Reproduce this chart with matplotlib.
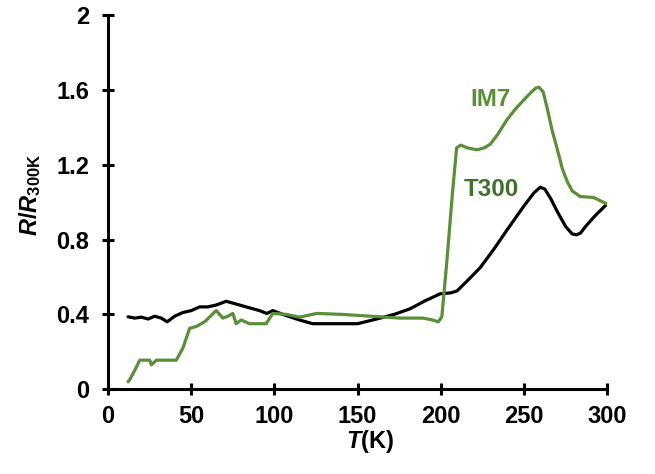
import matplotlib
matplotlib.use("Agg")
import matplotlib.pyplot as plt

plt.rcParams['font.family'] = ['Liberation Sans', 'DejaVu Sans']
plt.rcParams['mathtext.fontset'] = 'custom'
plt.rcParams['mathtext.rm'] = 'Liberation Sans'
plt.rcParams['mathtext.it'] = 'Liberation Sans:italic'
plt.rcParams['mathtext.bf'] = 'Liberation Sans:bold'
plt.rcParams['mathtext.bfit'] = 'Liberation Sans:bold:italic'

# T300 (black)
t300_T = [12, 16, 20, 24, 28, 32, 35.5, 40, 45, 50, 55, 60, 65, 71, 75, 79, 83, 87, 91, 95.4, 99, 105, 110, 115, 123, 130, 140, 150, 163.6, 172, 181.6, 190, 199.6, 206, 209.7, 216, 223.7, 232, 239.7, 250, 256, 259.8, 262.5, 266, 270, 275, 279, 281.5, 284, 287, 293, 299.9]
t300_R = [0.387, 0.38, 0.385, 0.375, 0.39, 0.38, 0.36, 0.39, 0.41, 0.42, 0.44, 0.44, 0.45, 0.47, 0.46, 0.45, 0.44, 0.43, 0.42, 0.405, 0.42, 0.40, 0.385, 0.37, 0.35, 0.35, 0.35, 0.35, 0.38, 0.40, 0.43, 0.47, 0.51, 0.515, 0.525, 0.58, 0.65, 0.75, 0.85, 0.98, 1.05, 1.08, 1.07, 1.02, 0.95, 0.87, 0.83, 0.825, 0.835, 0.87, 0.93, 0.99]

# IM7 (green)
im7_T = [12, 13, 16, 19, 25, 26, 29, 35, 41, 45, 49, 53, 58, 65, 69, 72, 75, 77, 80, 85, 95, 99, 107, 115, 125.5, 140, 163.6, 175, 189.4, 195, 198.5, 200.6, 203.7, 207, 209.5, 212, 216, 221.7, 226, 229.7, 234, 239.7, 245, 249.7, 254, 257, 259, 261.5, 264, 267, 269.8, 273, 276, 279, 283.8, 291.8, 299.9]
im7_R = [0.04, 0.05, 0.1, 0.155, 0.155, 0.13, 0.155, 0.155, 0.155, 0.22, 0.325, 0.335, 0.36, 0.42, 0.38, 0.39, 0.405, 0.35, 0.37, 0.35, 0.35, 0.405, 0.40, 0.385, 0.405, 0.40, 0.387, 0.38, 0.38, 0.37, 0.36, 0.387, 0.69, 1.05, 1.29, 1.305, 1.29, 1.28, 1.29, 1.31, 1.36, 1.44, 1.50, 1.545, 1.585, 1.61, 1.615, 1.59, 1.50, 1.38, 1.29, 1.18, 1.11, 1.06, 1.03, 1.025, 0.99]

x_ticks = [0, 50, 100, 150, 200, 250, 300]
y_ticks = [0, 0.4, 0.8, 1.2, 1.6, 2.0]
y_ticklabels = ['0', '0.4', '0.8', '1.2', '1.6', '2']

green = '#5a8f3a'
dark_green = '#42702f'
FS = 17

fig = plt.figure(figsize=(6.55, 4.74), dpi=100)
ax = fig.add_axes([0.165, 0.179, 0.762, 0.789])

ax.plot(t300_T, t300_R, color='black', lw=2.3, solid_joinstyle='round', solid_capstyle='round')
ax.plot(im7_T, im7_R, color=green, lw=2.3, solid_joinstyle='round', solid_capstyle='round')

ax.set_xlim(0, 300)
ax.set_ylim(0, 2)
ax.set_xticks(x_ticks)
ax.set_xticklabels([str(v) for v in x_ticks])
ax.set_yticks(y_ticks)
ax.set_yticklabels(y_ticklabels)

for s in ['top', 'right']:
    ax.spines[s].set_visible(False)
for s in ['left', 'bottom']:
    ax.spines[s].set_linewidth(2.2)

ax.tick_params(axis='both', direction='inout', length=9, width=2.2, labelsize=FS)
ax.tick_params(axis='x', pad=7)
ax.tick_params(axis='y', pad=9)
for lbl in ax.get_xticklabels() + ax.get_yticklabels():
    lbl.set_fontweight('bold')

ax.set_xlabel(r'$\mathbfit{T}$(K)', fontsize=FS, fontweight='bold')
ax.xaxis.set_label_coords(0.525, -0.105)

ax.set_ylabel(r'$\mathbfit{R}$/$\mathbfit{R}_{\mathbf{300K}}$', fontsize=FS, fontweight='bold')
ax.yaxis.set_label_coords(-0.13, 0.52)

ax.text(0.725, 0.775, 'IM7', transform=ax.transAxes, color=green, fontsize=FS + 0.5, fontweight='bold', ha='left', va='center')
ax.text(0.713, 0.535, 'T300', transform=ax.transAxes, color=dark_green, fontsize=FS + 0.5, fontweight='bold', ha='left', va='center')

fig.savefig('out.png', dpi=100)
